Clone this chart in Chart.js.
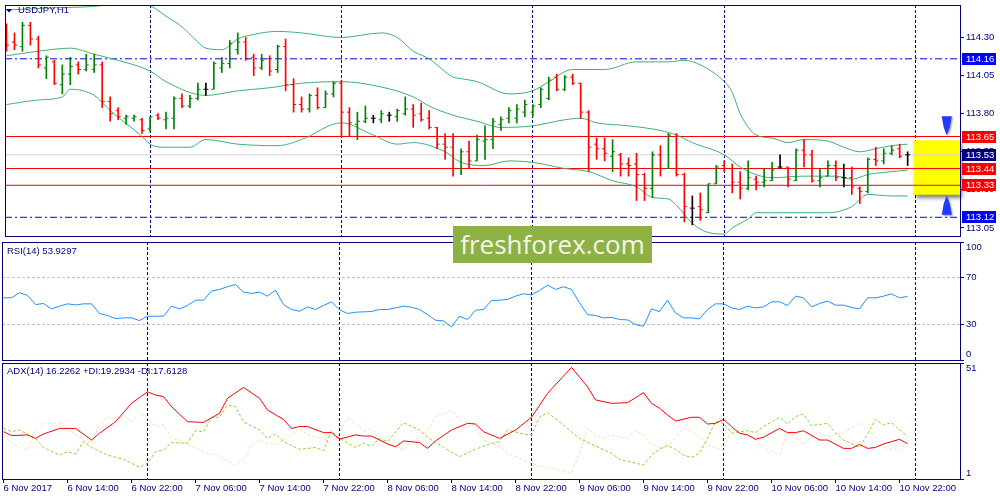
<!DOCTYPE html>
<html>
<head>
<meta charset="utf-8">
<title>USDJPY,H1</title>
<script src="https://cdn.jsdelivr.net/npm/chart.js@4.4.1/dist/chart.umd.min.js"></script>
<style>
  body { margin: 0; background: #fff; }
  #wrap { position: relative; width: 1000px; height: 500px; overflow: hidden; background: #fff; }
  #wrap canvas { position: absolute; left: 0; }
  #logo { position: absolute; left: 453px; top: 226px; width: 199px; height: 37px; line-height: 32px;
          background: #8db243; color: #f4f7ea; font: 26px "Open Sans", sans-serif; text-align: center; }
</style>
</head>
<body>
<div id="wrap">
  <canvas id="priceChart" width="1000" height="241" style="top:0"></canvas>
  <canvas id="rsiChart" width="1000" height="120" style="top:241px"></canvas>
  <canvas id="adxChart" width="1000" height="139" style="top:361px"></canvas>
  <div id="logo">freshforex.com</div>
</div>
<script>
// USDJPY H1 bars, bar 0 = 6 Nov 06:00, bar 113 = 10 Nov 23:00
const opens = [114.30, 114.27, 114.24, 114.38, 114.29, 114.10, 114.14, 113.99, 114.06, 114.12,
  114.09, 114.09, 114.12, 113.88, 113.82, 113.77, 113.77, 113.76, 113.70, 113.79,
  113.76, 113.77, 113.90, 113.85, 113.90, 113.96, 113.96, 114.10, 114.13, 114.22,
  114.27, 114.17, 114.10, 114.16, 114.09, 114.24, 113.99, 113.86, 113.83, 113.92,
  113.84, 113.93, 114.00, 113.81, 113.73, 113.75, 113.77, 113.76, 113.79, 113.78,
  113.80, 113.83, 113.80, 113.77, 113.71, 113.60, 113.58, 113.44, 113.55, 113.49,
  113.62, 113.63, 113.73, 113.77, 113.77, 113.81, 113.81, 113.86, 113.90, 114.04,
  113.96, 114.04, 114.00, 113.81, 113.60, 113.57, 113.52, 113.53, 113.47, 113.47,
  113.40, 113.31, 113.53, 113.44, 113.65, 113.40, 113.18, 113.19, 113.15, 113.34,
  113.46, 113.44, 113.35, 113.31, 113.37, 113.35, 113.36, 113.45, 113.45, 113.36,
  113.56, 113.53, 113.36, 113.39, 113.46, 113.38, 113.38, 113.31, 113.29, 113.50,
  113.49, 113.54, 113.57, 113.53];
const highs = [114.39, 114.33, 114.40, 114.40, 114.31, 114.18, 114.15, 114.12, 114.17, 114.14,
  114.19, 114.19, 114.14, 113.91, 113.84, 113.79, 113.79, 113.77, 113.78, 113.80,
  113.81, 113.91, 113.93, 113.92, 114.00, 114.00, 114.14, 114.17, 114.28, 114.33,
  114.30, 114.19, 114.19, 114.18, 114.25, 114.29, 114.03, 113.91, 113.93, 113.97,
  113.95, 114.01, 114.02, 113.84, 113.81, 113.85, 113.79, 113.82, 113.81, 113.83,
  113.91, 113.86, 113.87, 113.82, 113.71, 113.67, 113.67, 113.57, 113.62, 113.66,
  113.72, 113.77, 113.78, 113.84, 113.86, 113.89, 113.86, 113.97, 114.04, 114.06,
  114.05, 114.06, 114.00, 113.82, 113.64, 113.64, 113.63, 113.54, 113.51, 113.54,
  113.41, 113.55, 113.59, 113.67, 113.67, 113.41, 113.26, 113.28, 113.34, 113.46,
  113.49, 113.47, 113.42, 113.49, 113.39, 113.44, 113.48, 113.53, 113.45, 113.57,
  113.63, 113.56, 113.44, 113.49, 113.49, 113.47, 113.45, 113.32, 113.51, 113.58,
  113.57, 113.59, 113.60, 113.55];
const lows = [114.21, 114.22, 114.21, 114.25, 114.10, 114.03, 113.99, 113.93, 113.99, 114.06,
  114.08, 114.07, 113.84, 113.75, 113.76, 113.73, 113.75, 113.67, 113.68, 113.76,
  113.70, 113.70, 113.84, 113.84, 113.89, 113.92, 113.96, 114.07, 114.10, 114.19,
  114.15, 114.05, 114.09, 114.05, 114.07, 113.95, 113.81, 113.81, 113.81, 113.83,
  113.84, 113.91, 113.65, 113.65, 113.63, 113.74, 113.74, 113.74, 113.75, 113.75,
  113.79, 113.71, 113.75, 113.70, 113.57, 113.50, 113.39, 113.40, 113.44, 113.49,
  113.50, 113.57, 113.69, 113.74, 113.74, 113.78, 113.78, 113.84, 113.89, 113.95,
  113.95, 113.99, 113.77, 113.42, 113.50, 113.49, 113.42, 113.39, 113.39, 113.23,
  113.23, 113.25, 113.39, 113.44, 113.39, 113.09, 113.07, 113.10, 113.15, 113.34,
  113.42, 113.28, 113.24, 113.30, 113.30, 113.32, 113.36, 113.44, 113.32, 113.36,
  113.45, 113.35, 113.32, 113.39, 113.36, 113.32, 113.27, 113.21, 113.28, 113.46,
  113.47, 113.53, 113.51, 113.46];
const closes = [114.25, 114.25, 114.38, 114.29, 114.12, 114.17, 114.00, 114.06, 114.11, 114.09,
  114.12, 114.12, 113.88, 113.80, 113.78, 113.78, 113.78, 113.69, 113.78, 113.77,
  113.77, 113.90, 113.85, 113.90, 113.96, 113.96, 114.13, 114.13, 114.26, 114.27,
  114.16, 114.10, 114.15, 114.08, 114.24, 113.99, 113.86, 113.83, 113.92, 113.84,
  113.93, 114.00, 113.81, 113.74, 113.75, 113.77, 113.77, 113.80, 113.79, 113.82,
  113.83, 113.79, 113.76, 113.71, 113.60, 113.58, 113.44, 113.55, 113.49, 113.63,
  113.63, 113.75, 113.76, 113.82, 113.83, 113.86, 113.85, 113.96, 114.02, 113.96,
  114.04, 114.00, 113.81, 113.58, 113.57, 113.54, 113.55, 113.47, 113.46, 113.40,
  113.31, 113.53, 113.44, 113.66, 113.40, 113.19, 113.18, 113.17, 113.34, 113.45,
  113.44, 113.35, 113.31, 113.38, 113.35, 113.36, 113.43, 113.45, 113.37, 113.56,
  113.53, 113.36, 113.38, 113.46, 113.38, 113.38, 113.32, 113.29, 113.50, 113.49,
  113.54, 113.56, 113.52, 113.53];

// Bollinger bands at these bars
const upperBars = [0, 6, 12, 15, 18, 20, 22, 24, 25, 27, 29, 31, 34, 37, 42, 47, 49, 51, 53, 56,
  57, 59, 63, 66, 68, 71, 75, 79, 83, 85, 87, 90, 91, 92, 94, 96, 98, 100, 103, 105, 107, 109, 111, 113];
const upperBand = [114.48, 114.495, 114.51, 114.55, 114.51, 114.44, 114.37, 114.27, 114.23, 114.22,
  114.29, 114.32, 114.34, 114.33, 114.30, 114.33, 114.30, 114.21, 114.16, 114.04,
  114.03, 114.01, 113.93, 113.95, 114.01, 114.09, 114.09, 114.14, 114.14, 114.15,
  114.12, 114.01, 113.94, 113.80, 113.66, 113.64, 113.61, 113.63, 113.62, 113.58,
  113.55, 113.57, 113.59, 113.60];
const middleBars = [0, 4, 8, 11, 14, 18, 20, 25, 29, 33, 37, 42, 47, 51, 53, 56, 59, 62, 66, 70,
  72, 74, 78, 82, 84, 86, 90, 92, 94, 96, 100, 104, 106, 108, 111, 113];
const middleBand = [114.18, 114.21, 114.23, 114.19, 114.15, 114.08, 114.01, 113.92, 113.95, 113.97,
  114.00, 114.01, 113.975, 113.91, 113.85, 113.79, 113.75, 113.71, 113.72, 113.76,
  113.77, 113.74, 113.72, 113.69, 113.66, 113.61, 113.53, 113.45, 113.40, 113.38,
  113.39, 113.39, 113.37, 113.40, 113.42, 113.43];
const lowerBars = [0, 4, 7, 8, 11, 13, 17, 18, 20, 23, 25, 29, 34, 37, 42, 46, 49, 51, 55, 57,
  60, 63, 66, 70, 73, 76, 79, 81, 83, 84, 86, 88, 90, 91, 93, 94, 96, 100, 103, 106, 108, 111, 113];
const lowerBand = [113.86, 113.89, 113.91, 113.96, 113.92, 113.82, 113.65, 113.60, 113.58, 113.58,
  113.63, 113.60, 113.59, 113.63, 113.74, 113.66, 113.60, 113.61, 113.55, 113.48,
  113.46, 113.49, 113.48, 113.44, 113.42, 113.36, 113.32, 113.25, 113.24, 113.20,
  113.08, 113.02, 113.01, 113.05, 113.11, 113.15, 113.15, 113.15, 113.15, 113.19,
  113.27, 113.26, 113.26];

// RSI(14), one value per bar
const rsiValues = [52.7, 52.7, 57.0, 54.7, 47.0, 47.9, 43.3, 45.6, 47.6, 46.7,
  47.6, 47.6, 39.4, 37.7, 35.1, 35.7, 35.7, 33.4, 37.1, 37.1,
  37.1, 45.6, 43.3, 46.2, 50.7, 50.7, 58.4, 59.8, 62.1, 64.0,
  57.5, 56.4, 57.5, 54.1, 59.2, 47.0, 42.8, 41.3, 45.0, 42.8,
  46.2, 49.3, 42.5, 39.4, 40.5, 40.8, 41.1, 42.8, 42.8, 44.2,
  45.6, 44.7, 42.8, 38.5, 33.7, 33.1, 28.0, 37.1, 34.3, 42.2,
  42.8, 50.4, 50.7, 51.3, 54.1, 56.1, 55.2, 58.9, 63.5, 59.8,
  62.1, 59.8, 48.5, 38.5, 37.7, 35.7, 36.2, 34.3, 34.0, 30.0,
  28.6, 43.3, 41.0, 50.7, 39.9, 35.7, 35.7, 34.8, 42.8, 47.6,
  47.6, 44.2, 42.8, 45.6, 44.2, 45.0, 49.3, 49.3, 46.2, 54.1,
  52.7, 45.0, 47.9, 49.9, 46.5, 46.5, 44.5, 43.3, 52.7, 52.7,
  54.1, 56.1, 52.7, 53.9];

// ADX(14) with +DI / -DI, read at these bars
const adxBars = [0, 1, 3, 4, 5, 7, 9, 11, 12, 14, 16, 18, 19, 20, 21, 23, 25, 27, 28, 30,
  32, 33, 35, 36, 37, 38, 40, 41, 42, 44, 45, 46, 48, 49, 50, 52, 53, 54, 56, 58,
  59, 60, 62, 64, 66, 68, 71, 73, 74, 76, 78, 80, 81, 82, 83, 84, 86, 87, 88, 89,
  90, 91, 92, 93, 94, 95, 97, 98, 99, 100, 102, 103, 105, 106, 107, 108, 109, 110, 112, 113];
const adxValues = [21.4, 19.7, 20.0, 18.5, 20.4, 22.8, 22.8, 17.8, 20.7, 25.7,
  33.6, 38.6, 37.2, 36.5, 32.2, 25.7, 25.4, 29.3, 35.8, 40.5,
  35.8, 30.7, 26.7, 22.8, 23.6, 23.6, 21.0, 21.0, 18.2, 20.0,
  19.5, 19.5, 16.1, 14.9, 17.4, 16.7, 14.2, 17.4, 22.1, 25.0,
  24.7, 21.4, 18.5, 22.1, 27.6, 37.9, 49.1, 40.8, 35.1, 33.6,
  33.9, 38.2, 33.6, 31.5, 28.6, 26.0, 27.6, 27.6, 24.7, 25.0,
  26.7, 23.6, 20.7, 20.0, 18.1, 19.0, 22.8, 21.0, 21.0, 21.8,
  17.8, 17.8, 14.2, 14.2, 15.9, 14.2, 14.6, 16.1, 18.1, 16.2];
const plusDiBars = [0, 1, 2, 4, 5, 7, 8, 9, 10, 11, 13, 15, 16, 17, 18, 19, 20, 21, 23, 24,
  25, 26, 27, 28, 29, 30, 32, 33, 34, 35, 37, 39, 40, 41, 42, 44, 45, 46, 47, 48,
  50, 52, 53, 55, 57, 59, 61, 62, 63, 65, 66, 67, 68, 70, 72, 74, 76, 77, 80, 81,
  82, 83, 84, 85, 86, 87, 88, 89, 90, 91, 92, 93, 94, 95, 97, 98, 99, 100, 101, 103,
  104, 105, 107, 108, 109, 110, 111, 113];
const plusDiValues = [22.8, 21.4, 22.1, 18.5, 14.6, 11.3, 12.8, 11.8, 17.1, 14.6,
  11.3, 9.5, 7.8, 6.0, 7.8, 12.8, 13.5, 16.7, 16.4, 21.8,
  21.4, 27.6, 27.6, 32.9, 32.2, 25.7, 22.1, 18.5, 20.4, 17.1,
  13.8, 14.6, 13.2, 21.8, 18.5, 14.6, 16.4, 15.2, 18.5, 17.1,
  25.3, 22.1, 19.0, 14.6, 10.6, 13.8, 16.4, 17.1, 22.1, 20.4,
  20.0, 27.6, 29.6, 24.3, 18.5, 15.2, 12.1, 9.5, 7.0, 11.3,
  13.8, 15.5, 13.8, 11.3, 10.3, 12.1, 18.5, 25.7, 25.0, 20.7,
  21.4, 21.8, 21.0, 23.6, 27.6, 24.7, 27.9, 29.0, 24.0, 25.0,
  21.0, 17.8, 14.6, 20.4, 26.7, 24.3, 25.3, 19.3];
const minusDiBars = [0, 1, 2, 3, 4, 5, 7, 8, 10, 11, 12, 13, 14, 15, 16, 17, 18, 19, 20, 21,
  22, 24, 25, 27, 29, 30, 31, 32, 33, 34, 36, 37, 38, 40, 41, 42, 43, 44, 45, 46,
  47, 49, 50, 51, 53, 54, 56, 57, 59, 60, 62, 63, 65, 67, 69, 71, 72, 73, 74, 75,
  76, 78, 79, 80, 81, 82, 83, 85, 86, 87, 88, 90, 91, 92, 93, 94, 95, 97, 98, 99,
  100, 101, 102, 103, 105, 106, 107, 108, 109, 110, 112, 113];
const minusDiValues = [20.0, 16.4, 14.6, 13.5, 21.4, 24.7, 25.3, 22.4, 17.8, 16.7,
  24.3, 27.9, 25.7, 28.6, 25.7, 29.6, 27.1, 23.6, 24.3, 18.5,
  17.8, 14.2, 12.8, 10.6, 7.0, 9.2, 15.7, 17.8, 16.4, 15.7,
  20.0, 22.8, 20.0, 18.5, 14.9, 21.0, 27.1, 25.0, 21.8, 22.8,
  17.8, 15.2, 13.5, 17.1, 21.4, 27.9, 30.5, 26.4, 24.3, 17.8,
  15.2, 12.1, 9.2, 6.6, 5.2, 3.7, 12.1, 22.8, 20.0, 18.5,
  20.0, 18.5, 21.8, 20.0, 15.7, 14.6, 14.6, 22.8, 21.4, 19.0,
  15.7, 13.2, 22.4, 21.4, 21.0, 17.8, 14.6, 11.3, 21.0, 18.5,
  15.7, 19.5, 21.0, 19.2, 21.0, 22.8, 25.3, 22.1, 19.2, 14.6,
  13.2, 17.6];

// time axis
const labelBars = [0, 8, 16, 24, 32, 40, 48, 56, 64, 72, 80, 88, 96, 104, 112];
const timeLabels = ["6 Nov 2017", "6 Nov 14:00", "6 Nov 22:00", "7 Nov 06:00", "7 Nov 14:00",
  "7 Nov 22:00", "8 Nov 06:00", "8 Nov 14:00", "8 Nov 22:00", "9 Nov 06:00", "9 Nov 14:00",
  "9 Nov 22:00", "10 Nov 06:00", "10 Nov 14:00", "10 Nov 22:00"];
const midnightBars = [18, 42, 66, 90, 114];

// price levels
const priceTicks = [113.05, 113.30, 113.55, 113.80, 114.05, 114.30];
const blueLevels = [114.16, 113.12];
const redLevels = [113.65, 113.44, 113.33];
const bidPrice = 113.53;
const zoneTop = 113.625;
const zoneBottom = 113.268;
const zoneStartBar = 113.75;
const arrowBar = 117.9;
const rsiTicks = [0, 30, 70, 100];
const adxTicks = [1, 51];

const NAVY = "#000080";
const X_MIN = -0.1875, X_MAX = 119.5625;

Chart.defaults.font.family = "'Liberation Sans', Arial, sans-serif";
Chart.defaults.font.size = 9.5;
Chart.defaults.color = NAVY;

const barColors = closes.map((c, i) => c > opens[i] ? "#008000" : c < opens[i] ? "#ff0000" : "#000000");
const pts = (bars, values) => bars.map((b, i) => ({ x: b, y: values[i] }));

function setTicks(values) {
  return scale => { scale.ticks = values.map(v => ({ value: v })); };
}
function fixWidth(scale) {
  scale.width = 40; scale.paddingTop = 0; scale.paddingBottom = 0;
}
function fixHeight(h) {
  return scale => { scale.height = h; scale.paddingLeft = 0; scale.paddingRight = 0; };
}

// dashed vertical lines at midnight
function gridAxis() {
  return {
    type: "linear", position: "bottom", min: X_MIN, max: X_MAX, offset: false,
    afterBuildTicks: setTicks(midnightBars),
    afterFit: fixHeight(0),
    ticks: { display: false },
    grid: { color: NAVY, drawTicks: false, offset: false },
    border: { display: false, dash: [3, 2] }
  };
}

function level(v, color, dash) {
  return {
    data: [{ x: X_MIN, y: v }, { x: X_MAX, y: v }],
    borderColor: color, borderWidth: 1, borderDash: dash, pointRadius: 0, order: 2
  };
}

const frame = {
  id: "frame",
  afterDraw(chart) {
    const a = chart.chartArea, ctx = chart.ctx;
    ctx.save();
    ctx.strokeStyle = NAVY;
    ctx.lineWidth = 1;
    ctx.strokeRect(a.left + 0.5, a.top + 0.5, a.right - a.left, a.bottom - a.top);
    ctx.restore();
  }
};

function panelLabel(text, x, y, marker) {
  return {
    id: "panelLabel",
    afterDraw(chart) {
      const ctx = chart.ctx;
      ctx.save();
      ctx.fillStyle = NAVY;
      if (marker) {
        ctx.beginPath();
        ctx.moveTo(6, 9); ctx.lineTo(12, 9); ctx.lineTo(9, 12.5);
        ctx.closePath(); ctx.fill();
      }
      ctx.font = "9.5px 'Liberation Sans', Arial, sans-serif";
      ctx.textBaseline = "middle";
      ctx.fillText(text, x, y);
      ctx.restore();
    }
  };
}

function drawArrow(ctx, cx, tip, dir) {
  // dir = 1 points down, -1 points up
  ctx.beginPath();
  ctx.moveTo(cx, tip);
  ctx.lineTo(cx + 3, tip - dir * 8);
  ctx.lineTo(cx + 5, tip - dir * 19);
  ctx.lineTo(cx - 5, tip - dir * 19);
  ctx.lineTo(cx - 3, tip - dir * 8);
  ctx.closePath();
  ctx.fill();
}

const priceExtras = {
  id: "priceExtras",
  beforeDatasetsDraw(chart) {
    const { ctx, chartArea, scales } = chart;
    const x1 = scales.x.getPixelForValue(zoneStartBar);
    const y1 = scales.y.getPixelForValue(zoneTop);
    const y2 = scales.y.getPixelForValue(zoneBottom);
    ctx.save();
    ctx.shadowColor = "rgba(0,0,0,0.5)";
    ctx.shadowOffsetX = 2; ctx.shadowOffsetY = 3; ctx.shadowBlur = 4;
    ctx.fillStyle = "#ffff00";
    ctx.fillRect(x1, y1, chartArea.right - x1, y2 - y1);
    ctx.restore();
  },
  afterDatasetsDraw(chart) {
    const { ctx, scales } = chart;
    const cx = scales.x.getPixelForValue(arrowBar);
    ctx.save();
    ctx.shadowColor = "rgba(0,0,60,0.45)";
    ctx.shadowOffsetX = 1; ctx.shadowOffsetY = 1; ctx.shadowBlur = 2;
    ctx.fillStyle = "#1f3cff";
    drawArrow(ctx, cx, scales.y.getPixelForValue(zoneTop) - 5, 1);
    drawArrow(ctx, cx, scales.y.getPixelForValue(zoneBottom) + 1, -1);
    ctx.restore();
  },
  afterDraw(chart) {
    const { ctx, scales } = chart;
    const tags = blueLevels.concat(redLevels, [bidPrice]);
    ctx.save();
    ctx.font = "9.5px 'Liberation Sans', Arial, sans-serif";
    ctx.textBaseline = "middle";
    tags.forEach(v => {
      const y = Math.round(scales.y.getPixelForValue(v));
      ctx.fillStyle = v === bidPrice ? NAVY : redLevels.includes(v) ? "#ff0000" : "#0000ff";
      ctx.fillRect(962, y - 6, 34, 12);
      ctx.fillStyle = "#ffffff";
      ctx.fillText(v.toFixed(2), 966, y + 0.5);
    });
    ctx.restore();
  }
};

const common = {
  responsive: false,
  animation: false,
  devicePixelRatio: 1,
  plugins: { legend: { display: false }, tooltip: { enabled: false } }
};

// Price chart
new Chart("priceChart", {
  type: "line",
  data: {
    datasets: [
      {
        type: "bar",
        data: highs.map((h, i) => ({ x: i, y: [lows[i], h] })),
        backgroundColor: barColors, barThickness: 1, order: 0
      },
      {
        type: "scatter",
        data: opens.map((o, i) => ({ x: i - 0.1875, y: o })),
        pointStyle: "line", pointRadius: 1, pointBorderWidth: 1, pointBorderColor: barColors, order: 0
      },
      {
        type: "scatter",
        data: closes.map((c, i) => ({ x: i + 0.1875, y: c })),
        pointStyle: "line", pointRadius: 1, pointBorderWidth: 1, pointBorderColor: barColors, order: 0
      },
      { data: pts(upperBars, upperBand), borderColor: "#3cb371", borderWidth: 1, pointRadius: 0, cubicInterpolationMode: "monotone", order: 1 },
      { data: pts(middleBars, middleBand), borderColor: "#3cb371", borderWidth: 1, pointRadius: 0, cubicInterpolationMode: "monotone", order: 1 },
      { data: pts(lowerBars, lowerBand), borderColor: "#3cb371", borderWidth: 1, pointRadius: 0, cubicInterpolationMode: "monotone", order: 1 },
      level(bidPrice, "#d4d4d4", []),
      ...redLevels.map(v => level(v, "#ff0000", [])),
      ...blueLevels.map(v => level(v, "#0000ee", [7, 3, 2, 3]))
    ]
  },
  options: {
    ...common,
    layout: { padding: { left: 2, top: 2, right: 0, bottom: 1 } },
    scales: {
      x: gridAxis(),
      y: {
        type: "linear", position: "right", min: 112.9972, max: 114.5132,
        afterBuildTicks: setTicks(priceTicks), afterFit: fixWidth,
        ticks: { callback: v => v.toFixed(2), padding: 2, autoSkip: false },
        grid: { drawOnChartArea: false, tickLength: 4, tickColor: NAVY },
        border: { display: false }
      }
    }
  },
  plugins: [priceExtras, frame, panelLabel("USDJPY,H1", 18, 10.5, true)]
});

// RSI chart
new Chart("rsiChart", {
  type: "line",
  data: {
    datasets: [{
      data: rsiValues.map((v, i) => ({ x: i, y: v })),
      borderColor: "#1e90ff", borderWidth: 1, pointRadius: 0
    }]
  },
  options: {
    ...common,
    layout: { padding: { left: 2, top: 1, right: 0, bottom: 1 } },
    scales: {
      x: gridAxis(),
      y: {
        type: "linear", position: "right", min: 0, max: 100,
        afterBuildTicks: setTicks(rsiTicks), afterFit: fixWidth,
        ticks: { callback: v => v === 100 ? ["", "100"] : v === 0 ? ["0", ""] : String(v), padding: 2, autoSkip: false },
        grid: {
          color: c => c.tick && (c.tick.value === 30 || c.tick.value === 70) ? "#c0c0c0" : "rgba(0,0,0,0)",
          tickLength: 4, tickColor: NAVY
        },
        border: { display: false, dash: [3, 2] }
      }
    }
  },
  plugins: [frame, panelLabel("RSI(14) 53.9297", 7, 10.5, false)]
});

// ADX chart
new Chart("adxChart", {
  type: "line",
  data: {
    datasets: [
      { data: pts(adxBars, adxValues), borderColor: "#ff0000", borderWidth: 1, pointRadius: 0, xAxisID: "x", order: 0 },
      { data: pts(plusDiBars, plusDiValues), borderColor: "#9acd32", borderWidth: 1, borderDash: [3, 2], pointRadius: 0, xAxisID: "x", order: 1 },
      { data: pts(minusDiBars, minusDiValues), borderColor: "#f5deb3", borderWidth: 1, borderDash: [3, 2], pointRadius: 0, xAxisID: "x", order: 1 }
    ]
  },
  options: {
    ...common,
    layout: { padding: { left: 2, top: 2, right: 0, bottom: 0 } },
    scales: {
      x: {
        type: "linear", position: "bottom", min: X_MIN, max: X_MAX,
        afterBuildTicks: setTicks(labelBars), afterFit: fixHeight(21),
        ticks: { callback: (v, i) => timeLabels[i], align: "start", autoSkip: false, maxRotation: 0, minRotation: 0, padding: 0 },
        grid: { drawOnChartArea: false, tickLength: 4, tickColor: NAVY },
        border: { display: false }
      },
      xg: gridAxis(),
      y: {
        type: "linear", position: "right", min: 1, max: 51,
        afterBuildTicks: setTicks(adxTicks), afterFit: fixWidth,
        ticks: { callback: v => v === 51 ? ["", "51"] : ["1", ""], padding: 2, autoSkip: false },
        grid: { drawOnChartArea: false, tickLength: 4, tickColor: NAVY },
        border: { display: false }
      }
    }
  },
  plugins: [frame, panelLabel("ADX(14) 16.2262 +DI:19.2934 -DI:17.6128", 7, 10.5, false)]
});
</script>
</body>
</html>
